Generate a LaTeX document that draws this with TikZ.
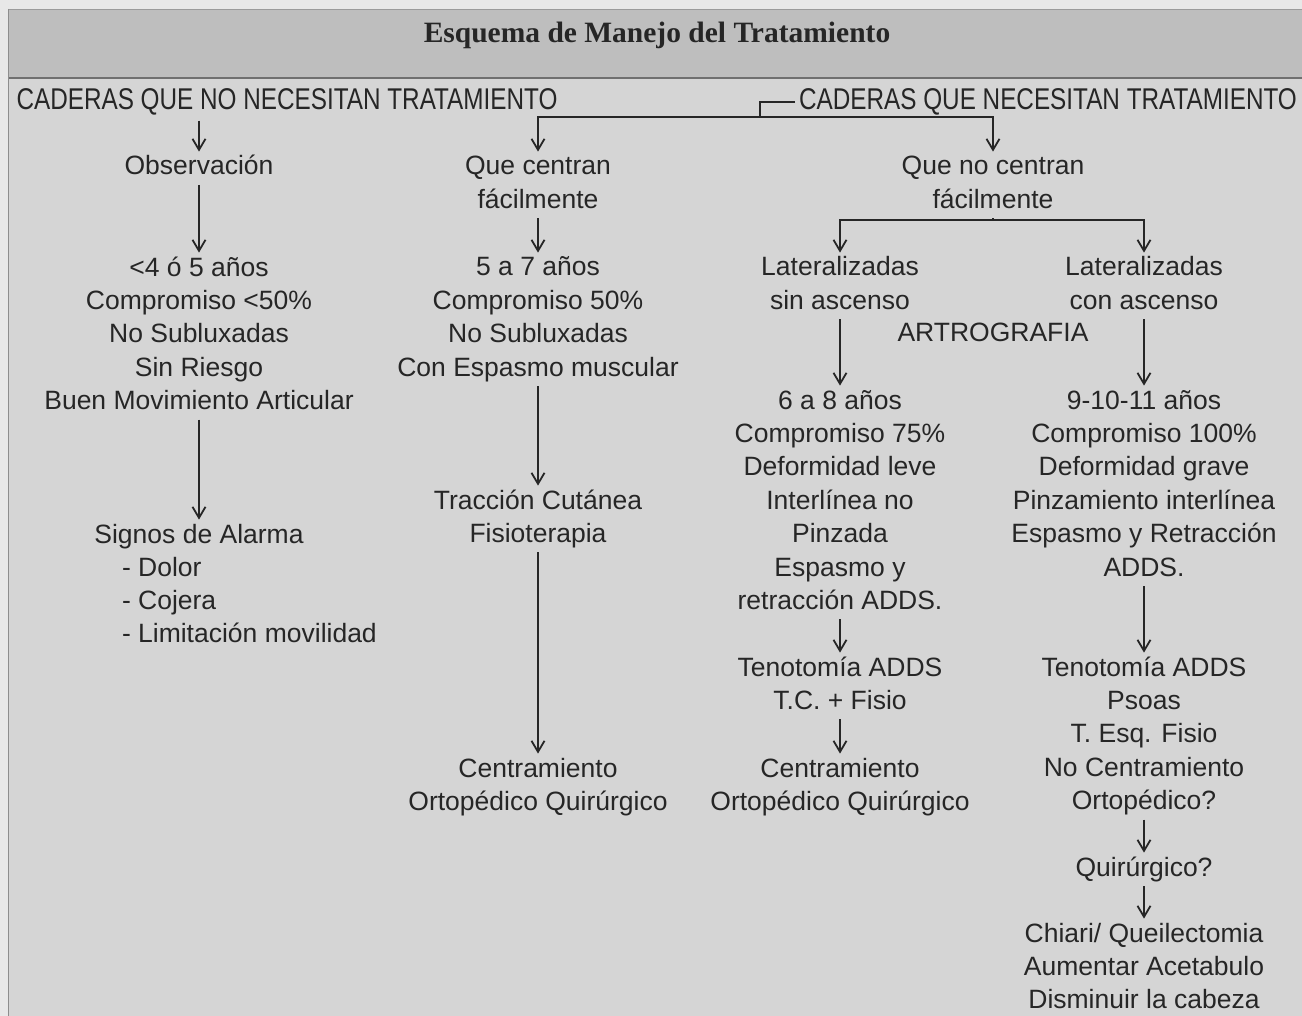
\documentclass[tikz,border=0pt]{standalone}
\usepackage{fontspec}
\setmainfont{Liberation Sans}
\newfontfamily\titlefont{Liberation Serif}
\usetikzlibrary{arrows.meta}
\definecolor{pagebg}{HTML}{E8E8E8}
\definecolor{bodybg}{HTML}{D5D5D5}
\definecolor{bandbg}{HTML}{BEBEBE}
\definecolor{ink}{HTML}{262626}
\definecolor{rulec}{HTML}{707070}
\newcommand\ls{\rule[-10pt]{0pt}{33.4pt}}
\begin{document}
\begin{tikzpicture}[x=1pt,y=-1pt,
  txt/.style={anchor=north, inner sep=0pt, outer sep=0pt, align=center, text=ink,
    font=\fontsize{26.5}{33.4}\selectfont},
  head/.style={anchor=base, inner sep=0pt, outer sep=0pt, text=ink,
    font=\fontsize{30}{33.4}\selectfont},
  arr/.style={draw=ink, line width=1.8pt, -{Straight Barb[length=11pt,width=13pt]}},
  ln/.style={draw=ink, line width=1.8pt},
]
\useasboundingbox (0,0) rectangle (1302,1016);
% backgrounds
\fill[pagebg] (0,0) rectangle (1302,1016);
\fill[bodybg] (9,79) rectangle (1302,1016);
\fill[bandbg] (9,10) rectangle (1302,77);
\draw[rulec!70, line width=1pt] (8,9.5) -- (1302,9.5);
\draw[rulec, line width=2pt] (8,78) -- (1302,78);
\draw[rulec!80, line width=1.2pt] (8.5,9) -- (8.5,1016);

% title
\node[anchor=base, inner sep=0pt, text=ink,
  font=\titlefont\bfseries\fontsize{29.5}{34}\selectfont] (title) at (657,43)
  {Esquema de Manejo del Tratamiento};

% headings
\node[head] (lhead) at (287,110) {\scalebox{0.81}[1]{CADERAS QUE NO NECESITAN TRATAMIENTO}};
\node[head] (rhead) at (1048,110) {\scalebox{0.81}[1]{CADERAS QUE NECESITAN TRATAMIENTO}};

% left column
\node[txt] (obs) at (199,151.6) {\ls Observación};
\node[txt] (blk1) at (199,252.6) {\ls <4 ó 5 años\\Compromiso <50\%\\No Subluxadas\\Sin Riesgo\\Buen Movimiento Articular\ls};
\node[txt] (signos) at (199,519.6) {\ls Signos de Alarma};
\node[txt, anchor=north west, align=left] (lista) at (122,552.6) {\ls - Dolor\\- Cojera\\- Limitación movilidad\ls};

% middle column
\node[txt] (qc) at (538,151.6) {\ls Que centran\\fácilmente\ls};
\node[txt] (blk2) at (538,252.6) {\ls 5 a 7 años\\Compromiso 50\%\\No Subluxadas\\Con Espasmo muscular\ls};
\node[txt] (trac) at (538,485.6) {\ls Tracción Cutánea\\Fisioterapia\ls};
\node[txt] (cen1) at (538,753.6) {\ls Centramiento\\Ortopédico Quirúrgico\ls};

% right column
\node[txt] (qnc) at (993,151.6) {\ls Que no centran\\fácilmente\ls};
\node[txt] (lat1) at (840,252.6) {\ls Lateralizadas\\sin ascenso\ls};
\node[txt] (lat2) at (1144,252.6) {\ls Lateralizadas\\con ascenso\ls};
\node[txt] (artro) at (993,318.6) {\ls ARTROGRAFIA};
\node[txt] (b68) at (840,385.6) {\ls 6 a 8 años\\Compromiso 75\%\\Deformidad leve\\Interlínea no\\Pinzada\\Espasmo y\\retracción ADDS.\ls};
\node[txt] (ten1) at (840,652.6) {\ls Tenotomía ADDS\\T.C. + Fisio\ls};
\node[txt] (cen2) at (840,753.6) {\ls Centramiento\\Ortopédico Quirúrgico\ls};
\node[txt] (b911) at (1144,385.6) {\ls 9-10-11 años\\Compromiso 100\%\\Deformidad grave\\Pinzamiento interlínea\\Espasmo y Retracción\\ADDS.\ls};
\node[txt] (ten2) at (1144,652.6) {\ls Tenotomía ADDS\\Psoas\\T. Esq. Fisio\\No Centramiento\\Ortopédico?\ls};
\node[txt] (quir) at (1144,852.6) {\ls Quirúrgico?};
\node[txt] (chiari) at (1144,918.6) {\ls Chiari/ Queilectomia\\Aumentar Acetabulo\\Disminuir la cabeza\ls};

% connectors
\draw[arr] ([yshift=-5pt]obs.north |- lhead.south) -- (obs.north);
\draw[arr] (obs.south) -- (blk1.north);
\draw[arr] (blk1.south) -- (signos.north);

\coordinate (j1) at (760,117);
\draw[ln] ([xshift=-4pt]rhead.west) -| (j1);
\draw[arr] (j1) -| (qc.north);
\draw[arr] (j1) -| (qnc.north);

\draw[arr] (qc.south) -- (blk2.north);
\draw[arr] (blk2.south) -- (trac.north);
\draw[arr] (trac.south) -- (cen1.north);

\coordinate (j2) at (993,220);
\draw[ln] (qnc.south) -- (j2);
\draw[arr] (j2) -| (lat1.north);
\draw[arr] (j2) -| (lat2.north);

\draw[arr] (lat1.south) -- (b68.north);
\draw[arr] (b68.south) -- (ten1.north);
\draw[arr] (ten1.south) -- (cen2.north);

\draw[arr] (lat2.south) -- (b911.north);
\draw[arr] (b911.south) -- (ten2.north);
\draw[arr] (ten2.south) -- (quir.north);
\draw[arr] (quir.south) -- (chiari.north);
\end{tikzpicture}
\end{document}
